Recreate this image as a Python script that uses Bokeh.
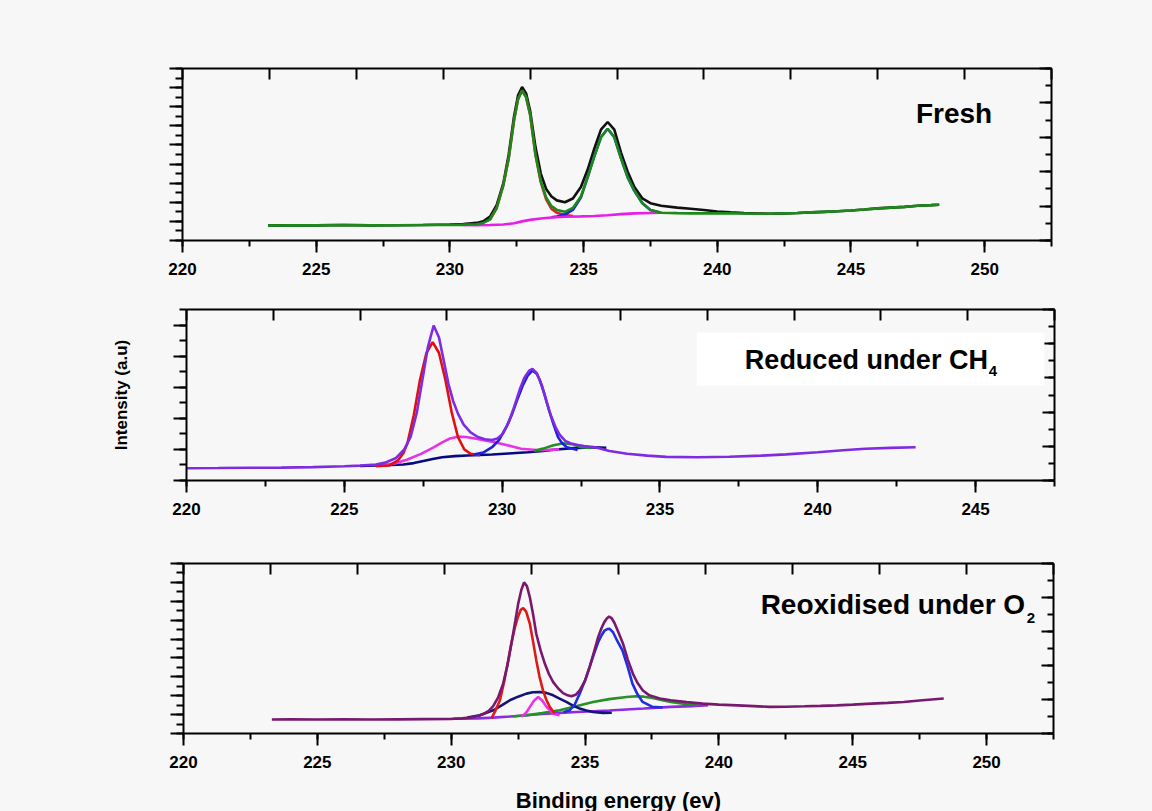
from bokeh.plotting import figure
from bokeh.models import Range1d, LinearAxis, SingleIntervalTicker, Label, BoxAnnotation
from bokeh.layouts import column
from bokeh.embed import file_html
from bokeh.resources import INLINE

# ---------------- data (binding energy in eV, intensity in arbitrary units) ----------------
# Panel 1: Fresh
fresh_x = [223.2, 224.0, 225.0, 226.0, 227.0, 228.0, 229.0, 230.0, 230.5, 231.0, 231.25, 231.5, 231.75,
           232.0, 232.2, 232.4, 232.55, 232.7, 232.85, 233.0, 233.2, 233.4, 233.6, 233.8, 234.0, 234.3,
           234.6, 234.9, 235.15, 235.4, 235.65, 235.9, 236.15, 236.4, 236.65, 236.9, 237.2, 237.5, 237.9,
           238.5, 239.0, 239.5, 240.0, 240.5, 241.0, 241.5, 242.0, 242.5, 243.0, 243.5, 244.0, 244.5,
           245.0, 245.5, 246.0, 246.5, 247.0, 247.5, 248.0, 248.3]
fresh_raw = [0.78, 0.80, 0.79, 0.81, 0.79, 0.80, 0.81, 0.84, 0.86, 0.92, 1.00, 1.25, 1.85,
             3.0, 4.5, 6.5, 7.6, 8.03, 7.7, 6.8, 4.9, 3.5, 2.7, 2.3, 2.1, 2.0,
             2.2, 2.8, 3.7, 4.8, 5.8, 6.2, 5.8, 4.6, 3.6, 2.8, 2.2, 1.95, 1.82,
             1.72, 1.66, 1.60, 1.52, 1.47, 1.43, 1.41, 1.40, 1.42, 1.44, 1.47, 1.50, 1.53,
             1.57, 1.62, 1.68, 1.72, 1.76, 1.82, 1.85, 1.87]
fresh_fit = [0.78, 0.80, 0.79, 0.81, 0.79, 0.80, 0.81, 0.82, 0.82, 0.85, 0.92, 1.10, 1.70,
             2.9, 4.3, 6.3, 7.4, 7.85, 7.5, 6.6, 4.5, 3.1, 2.25, 1.8, 1.6, 1.5,
             1.7, 2.3, 3.3, 4.4, 5.4, 5.85, 5.4, 4.3, 3.3, 2.6, 1.95, 1.6, 1.45,
             1.43, 1.42, 1.42, 1.42, 1.42, 1.41, 1.40, 1.40, 1.42, 1.44, 1.47, 1.50, 1.53,
             1.57, 1.62, 1.68, 1.72, 1.76, 1.82, 1.85, 1.87]
fresh_bg_x = [230.5, 231.0, 231.5, 232.0, 232.4, 232.7, 233.0, 233.4, 233.8, 234.3, 234.9, 235.4,
              235.9, 236.4, 236.9, 237.5, 237.9]
fresh_bg_y = [0.82, 0.80, 0.81, 0.84, 0.90, 1.00, 1.08, 1.15, 1.20, 1.24, 1.26, 1.28,
              1.32, 1.38, 1.42, 1.44, 1.45]
fresh_p1_x = [231.5, 231.75, 232.0, 232.2, 232.4, 232.55, 232.7, 232.85, 233.0, 233.2, 233.4, 233.6,
              233.8, 234.0, 234.3, 234.6]
fresh_p1_y = [1.1, 1.7, 2.9, 4.3, 6.3, 7.4, 7.85, 7.5, 6.6, 4.5, 3.05, 2.15, 1.65, 1.45, 1.33, 1.28]
fresh_p2_x = [233.8, 234.0, 234.3, 234.6, 234.9, 235.15, 235.4, 235.65, 235.9, 236.15, 236.4, 236.65,
              236.9, 237.2, 237.5, 237.9]
fresh_p2_y = [1.22, 1.26, 1.36, 1.6, 2.25, 3.3, 4.4, 5.4, 5.85, 5.4, 4.3, 3.3, 2.6, 1.95, 1.6, 1.45]

# Panel 2: Reduced under CH4
red_env_x = [220.0, 221.0, 222.0, 223.0, 224.0, 225.0, 225.5, 226.0, 226.3, 226.64, 226.9, 227.1,
             227.3, 227.5, 227.65, 227.83, 228.0, 228.16, 228.3, 228.45, 228.6, 228.78, 229.0, 229.23,
             229.45, 229.68, 229.85, 230.02, 230.2, 230.36, 230.55, 230.7, 230.85, 230.96, 231.1,
             231.26, 231.4, 231.54, 231.7, 231.82, 232.0, 232.16, 232.4, 232.6, 232.95, 233.4,
             233.96, 234.6, 235.2, 236.2, 237.2, 238.2, 239.0, 240.0, 240.8, 241.5, 242.3, 243.1]
red_env_y = [0.79, 0.80, 0.82, 0.83, 0.86, 0.92, 0.96, 1.02, 1.15, 1.45, 2.0, 2.8,
             4.4, 6.8, 8.6, 9.97, 9.2, 7.6, 6.2, 5.1, 4.3, 3.6, 3.1, 2.8,
             2.65, 2.6, 2.7, 3.0, 3.7, 4.6, 5.8, 6.6, 7.05, 7.18, 6.9,
             6.1, 5.1, 4.2, 3.4, 2.95, 2.55, 2.4, 2.28, 2.22, 2.14, 1.9,
             1.72, 1.6, 1.52, 1.50, 1.53, 1.60, 1.68, 1.82, 1.95, 2.04, 2.10, 2.14]
red_p1_x = [226.0, 226.42, 226.7, 226.87, 227.0, 227.2, 227.4, 227.6, 227.8, 228.0, 228.2, 228.4,
            228.6, 228.8, 229.0, 229.3]
red_p1_y = [0.92, 0.96, 1.3, 1.75, 2.4, 4.2, 6.5, 8.2, 8.9, 8.2, 6.5, 4.4, 2.8, 2.0, 1.72, 1.62]
red_broad_x = [226.2, 226.6, 227.0, 227.43, 227.8, 228.1, 228.35, 228.6, 228.85, 229.1, 229.46, 229.8,
               230.1, 230.6, 231.2, 231.8]
red_broad_y = [0.98, 1.10, 1.35, 1.71, 2.10, 2.45, 2.70, 2.82, 2.80, 2.72, 2.57, 2.45,
               2.30, 2.04, 1.95, 2.00]
red_bg_x = [225.5, 226.0, 226.5, 226.87, 227.2, 227.43, 227.8, 228.1, 228.5, 228.9, 229.3, 229.68,
            230.2, 230.81, 231.3, 231.71, 232.27, 232.95, 233.3]
red_bg_y = [0.93, 0.97, 1.00, 1.03, 1.12, 1.22, 1.38, 1.50, 1.57, 1.61, 1.64, 1.67,
            1.74, 1.82, 1.90, 1.99, 2.08, 2.14, 2.10]
red_p2_x = [229.1, 229.4, 229.68, 229.9, 230.13, 230.3, 230.47, 230.65, 230.81, 230.96, 231.1, 231.2,
            231.35, 231.49, 231.63, 231.77, 231.9, 232.05, 232.39]
red_p2_y = [1.67, 1.8, 2.14, 2.6, 3.43, 4.2, 5.14, 6.1, 6.75, 7.07, 6.85, 6.43,
            5.5, 4.5, 3.6, 2.79, 2.4, 2.14, 1.97]
red_p3_x = [231.0, 231.3, 231.6, 231.94, 232.27, 232.5, 232.8]
red_p3_y = [1.90, 2.05, 2.25, 2.40, 2.32, 2.14, 2.10]

# Panel 3: Reoxidised under O2
ox_env_x = [223.3, 224.0, 225.0, 226.0, 227.0, 228.0, 229.0, 229.95, 230.4, 230.7, 231.0, 231.2,
            231.4, 231.57, 231.75, 231.94, 232.1, 232.25, 232.4, 232.5, 232.62, 232.72, 232.83,
            232.94, 233.06, 233.18, 233.34, 233.5, 233.65, 233.81, 234.0, 234.18, 234.35, 234.49,
            234.65, 234.8, 235.0, 235.17, 235.33, 235.49, 235.62, 235.73, 235.82, 235.9, 236.0,
            236.1, 236.25, 236.42, 236.6, 236.79, 236.95, 237.16, 237.4, 237.79, 238.2, 238.8,
            239.4, 240.0, 240.7, 241.3, 241.9, 242.5, 243.2, 243.8, 244.4, 245.0, 245.7, 246.3,
            246.9, 247.6, 248.4]
ox_env_y = [0.74, 0.75, 0.74, 0.75, 0.74, 0.75, 0.76, 0.77, 0.80, 0.84, 0.93, 1.03,
            1.20, 1.45, 1.90, 2.64, 3.6, 4.75, 6.0, 6.85, 7.6, 8.0, 7.8,
            7.2, 6.3, 5.27, 4.4, 3.69, 3.15, 2.72, 2.38, 2.14, 2.02, 1.97,
            2.05, 2.28, 2.8, 3.51, 4.3, 5.1, 5.6, 5.92, 6.1, 6.19, 6.1,
            5.85, 5.35, 4.75, 3.9, 3.16, 2.7, 2.28, 2.02, 1.85, 1.76, 1.66,
            1.58, 1.53, 1.49, 1.45, 1.41, 1.42, 1.44, 1.46, 1.49, 1.53, 1.58, 1.62,
            1.67, 1.76, 1.85]
ox_p1_x = [231.5, 231.65, 231.82, 231.97, 232.13, 232.25, 232.38, 232.5, 232.6, 232.69, 232.8,
           232.94, 233.06, 233.18, 233.3, 233.43, 233.55, 233.68, 233.87]
ox_p1_y = [0.80, 1.20, 1.76, 2.70, 3.87, 4.80, 5.62, 6.20, 6.55, 6.64, 6.45,
           5.80, 4.85, 3.87, 3.00, 2.28, 1.80, 1.41, 1.05]
ox_broad_x = [230.6, 231.07, 231.57, 231.9, 232.19, 232.5, 232.81, 233.05, 233.31, 233.55, 233.81,
              234.05, 234.3, 234.55, 234.8, 235.05, 235.3, 235.67, 236.0]
ox_broad_y = [0.84, 0.97, 1.23, 1.50, 1.76, 1.95, 2.11, 2.18, 2.20, 2.15, 2.02,
              1.85, 1.67, 1.48, 1.32, 1.22, 1.14, 1.09, 1.10]
ox_small_x = [232.62, 232.8, 232.94, 233.1, 233.25, 233.4, 233.56, 233.81, 234.05]
ox_small_y = [0.88, 1.10, 1.41, 1.75, 1.93, 1.75, 1.41, 1.05, 0.97]
ox_p2_x = [234.2, 234.43, 234.62, 234.8, 235.0, 235.17, 235.33, 235.49, 235.62, 235.73, 235.83,
           235.92, 236.05, 236.17, 236.4, 236.6, 236.77, 236.95, 237.15, 237.52, 237.9]
ox_p2_y = [1.12, 1.23, 1.55, 2.11, 2.80, 3.51, 4.20, 4.83, 5.20, 5.45, 5.53,
           5.54, 5.35, 5.00, 4.39, 3.50, 2.64, 2.10, 1.67, 1.41, 1.38]
ox_p3_x = [232.3, 232.81, 233.4, 234.05, 234.7, 235.3, 235.9, 236.55, 236.9, 237.2, 237.52, 237.85,
           238.2, 238.8, 239.2]
ox_p3_y = [0.90, 0.97, 1.08, 1.23, 1.45, 1.67, 1.82, 1.93, 1.97, 1.95, 1.88, 1.78,
           1.67, 1.55, 1.50]
ox_bg_x = [230.07, 231.0, 231.57, 232.2, 232.81, 233.4, 234.05, 234.7, 235.3, 235.9, 236.55, 237.2,
           238.2, 239.0, 239.6]
ox_bg_y = [0.78, 0.80, 0.84, 0.90, 0.97, 1.03, 1.09, 1.14, 1.18, 1.22, 1.27, 1.32,
           1.41, 1.45, 1.50]

titles = ["Fresh", "Reduced under CH", "Reoxidised under O"]
subs = ["", "4", "2"]
x_label = "Binding energy (ev)"
y_label = "Intensity (a.u)"

# ---------------- styling ----------------
BG = "#f7f7f7"
FONT = "Liberation Sans"
LW = 2.6


def style(ax, out_major=0, out_minor=0, in_major=0, in_minor=0, labels=False):
    ax.axis_line_width = 2
    ax.axis_line_color = "black"
    ax.major_tick_line_width = 2
    ax.minor_tick_line_width = 2
    ax.major_tick_line_color = "black"
    ax.minor_tick_line_color = "black"
    ax.major_tick_out = out_major
    ax.major_tick_in = in_major
    ax.minor_tick_out = out_minor
    ax.minor_tick_in = in_minor
    if labels:
        ax.major_label_text_font = FONT
        ax.major_label_text_font_style = "bold"
        ax.major_label_text_font_size = "17px"
        ax.major_label_text_color = "black"
        ax.major_label_standoff = 10
    else:
        ax.major_label_text_font_size = "1px"
        ax.major_label_text_alpha = 0
        ax.major_label_text_color = None
        ax.major_label_standoff = 5


def panel(xmax, ymax, left_interval, fw, fh, bl, br, bt, bb):
    p = figure(x_range=Range1d(220, xmax), y_range=Range1d(0, ymax),
               frame_width=fw, frame_height=fh, frame_align=False,
               min_border_left=bl, min_border_right=br, min_border_top=bt, min_border_bottom=bb,
               output_backend="svg", toolbar_location=None,
               x_axis_type=None, y_axis_type=None,
               background_fill_color=BG, border_fill_color=BG, outline_line_color=None)
    p.extra_x_ranges = {"t": Range1d(0, 10)}
    p.extra_y_ranges = {"r": Range1d(0, 10)}
    below = LinearAxis(ticker=SingleIntervalTicker(interval=5, num_minor_ticks=2))
    style(below, out_major=12, out_minor=6, labels=True)
    p.add_layout(below, "below")
    left = LinearAxis(ticker=SingleIntervalTicker(interval=left_interval, num_minor_ticks=2))
    style(left, out_major=13, out_minor=7)
    p.add_layout(left, "left")
    right = LinearAxis(y_range_name="r", ticker=SingleIntervalTicker(interval=2, num_minor_ticks=2))
    style(right, in_major=12, in_minor=6)
    p.add_layout(right, "right")
    above = LinearAxis(x_range_name="t", ticker=SingleIntervalTicker(interval=1, num_minor_ticks=0))
    style(above, in_major=11)
    p.add_layout(above, "above")
    return p, below, left


def title(p, x, y, text, sx, sy, sub, size):
    p.add_layout(Label(x=x, y=y, text=text, text_font=FONT, text_font_style="bold",
                       text_font_size=size, text_color="black", text_baseline="middle",
                       text_align="left"))
    if sub:
        p.add_layout(Label(x=sx, y=sy, text=sub, text_font=FONT, text_font_style="bold",
                           text_font_size="15px", text_color="black", text_baseline="middle",
                           text_align="left"))


# ---- Panel 1 ----
p1, _, _ = panel(252.5, 9, 1, 869, 172, 182, 101, 68, 40)
p1.line(fresh_x, fresh_raw, line_color="#111111", line_width=LW)
p1.line(fresh_p1_x, fresh_p1_y, line_color="#e02020", line_width=LW)
p1.line(fresh_p2_x, fresh_p2_y, line_color="#2020e0", line_width=LW)
p1.line(fresh_bg_x, fresh_bg_y, line_color="#e81ee8", line_width=LW)
p1.line(fresh_x, fresh_fit, line_color="#1b8a1b", line_width=LW)
title(p1, 247.43, 6.65, titles[0], 0, 0, subs[0], "28px")

# ---- Panel 2 ----
p2, _, left2 = panel(247.5, 11, 2, 868, 171, 186, 98, 29, 45)
left2.axis_label = y_label
left2.axis_label_text_font = FONT
left2.axis_label_text_font_style = "bold"
left2.axis_label_text_font_size = "17px"
left2.axis_label_text_color = "black"
left2.axis_label_standoff = 43
p2.add_layout(BoxAnnotation(left=236.17, right=247.18, bottom=6.11, top=9.52,
                            fill_color="white", fill_alpha=1.0, line_color=None))
p2.line(red_bg_x, red_bg_y, line_color="#0a0a80", line_width=LW)
p2.line(red_broad_x, red_broad_y, line_color="#e633e6", line_width=LW)
p2.line(red_p3_x, red_p3_y, line_color="#209020", line_width=LW)
p2.line(red_p1_x, red_p1_y, line_color="#e01010", line_width=LW)
p2.line(red_p2_x, red_p2_y, line_color="#1f1fe0", line_width=LW)
p2.line(red_env_x, red_env_y, line_color="#7f2be2", line_width=LW)
title(p2, 237.69, 7.72, titles[1], 245.42, 7.07, subs[1], "27px")

# ---- Panel 3 ----
p3, below3, _ = panel(252.5, 9, 1, 870, 170, 183, 99, 38, 77)
below3.axis_label = x_label
below3.axis_label_text_font = FONT
below3.axis_label_text_font_style = "bold"
below3.axis_label_text_font_size = "22px"
below3.axis_label_text_color = "black"
below3.axis_label_standoff = 17
p3.line(ox_bg_x, ox_bg_y, line_color="#8b2be2", line_width=LW)
p3.line(ox_p3_x, ox_p3_y, line_color="#289028", line_width=LW)
p3.line(ox_broad_x, ox_broad_y, line_color="#141478", line_width=LW)
p3.line(ox_small_x, ox_small_y, line_color="#ee30ee", line_width=LW)
p3.line(ox_p1_x, ox_p1_y, line_color="#e01818", line_width=LW)
p3.line(ox_p2_x, ox_p2_y, line_color="#1f2fe0", line_width=LW)
p3.line(ox_env_x, ox_env_y, line_color="#7a1870", line_width=LW)
title(p3, 241.56, 6.84, titles[2], 251.5, 6.11, subs[2], "28px")

layout = column(p1, p2, p3, spacing=0, styles={"background-color": BG})
open("out.html", "w").write(file_html(layout, INLINE))
